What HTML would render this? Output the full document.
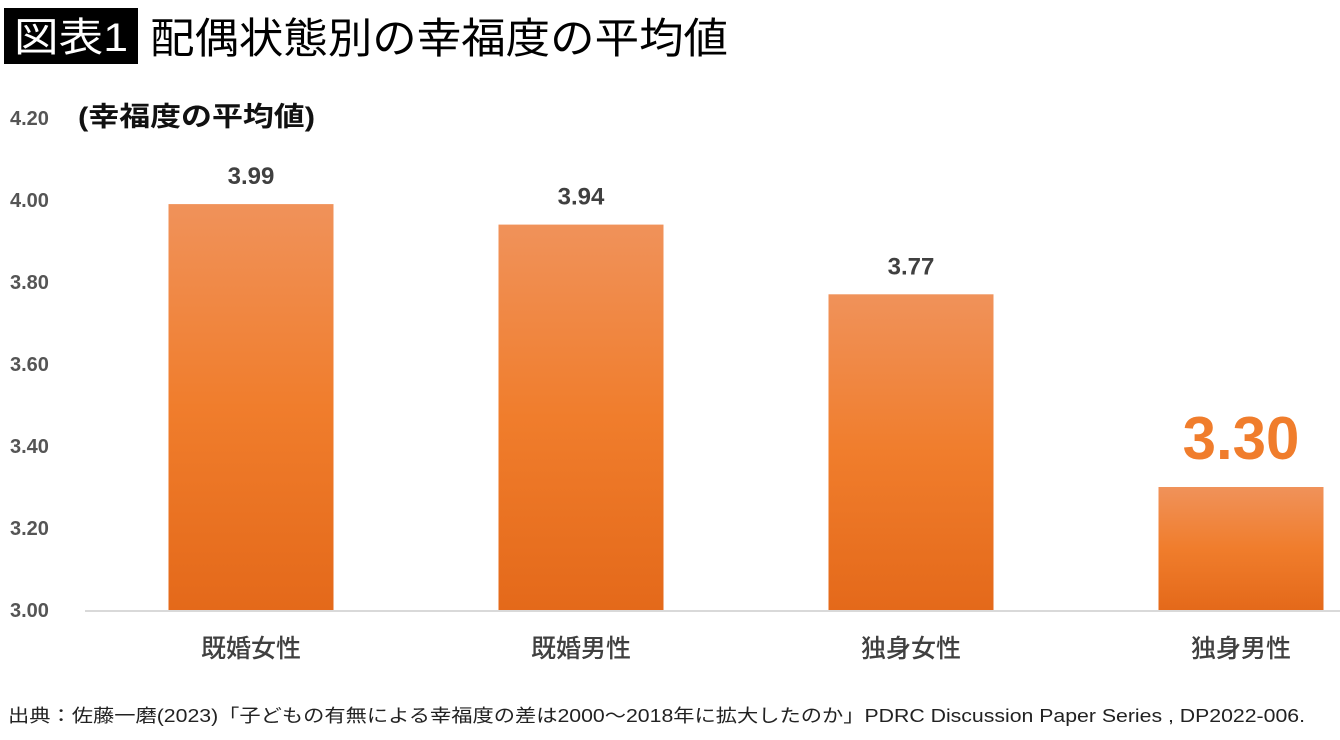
<!DOCTYPE html>
<html><head><meta charset="utf-8"><style>
body{margin:0;width:1340px;height:735px;background:#fff;overflow:hidden;font-family:"Liberation Sans","Noto Sans CJK JP",sans-serif}
svg text{font-family:"Liberation Sans","Noto Sans CJK JP",sans-serif}
</style></head><body>
<svg id="chart" width="1340" height="735" xmlns="http://www.w3.org/2000/svg">
<defs><linearGradient id="g" x1="0" y1="0" x2="0" y2="1">
<stop offset="0" stop-color="#F0925A"/><stop offset="0.5" stop-color="#F07D2C"/><stop offset="1" stop-color="#E4691A"/></linearGradient></defs>
<rect x="4" y="8" width="134" height="56" fill="#000"/>
<text x="14" y="51" font-size="40" fill="#fff" textLength="114" lengthAdjust="spacingAndGlyphs">図表1</text>
<text x="150" y="53" font-size="42" fill="#000" textLength="578" lengthAdjust="spacingAndGlyphs">配偶状態別の幸福度の平均値</text>
<text x="78" y="126" font-size="27" font-weight="bold" fill="#111" textLength="237" lengthAdjust="spacingAndGlyphs">(幸福度の平均値)</text>
<g id="axis"></g><g id="bars"></g>
<text x="8" y="722" font-size="18" fill="#222" textLength="1297" lengthAdjust="spacingAndGlyphs">出典：佐藤一磨(2023)「子どもの有無による幸福度の差は2000〜2018年に拡大したのか」PDRC Discussion Paper Series , DP2022-006.</text>
</svg>
<script>
const categories=["既婚女性","既婚男性","独身女性","独身男性"];
const values=[3.99,3.94,3.77,3.30];
const valueLabels=["3.99","3.94","3.77","3.30"];
const ticks=[3.00,3.20,3.40,3.60,3.80,4.00,4.20];
const NS="http://www.w3.org/2000/svg";
const y=v=>610-(v-3)*410;
const xc=i=>251+i*330;
const bw=165;
function mk(t,a,txt){const e=document.createElementNS(NS,t);for(const k in a)e.setAttribute(k,a[k]);if(txt!=null)e.textContent=txt;return e;}
const ax=document.getElementById('axis'),bg=document.getElementById('bars');
ticks.forEach(t=>{const e=mk('text',{x:10,y:y(t)+7,'font-size':20,'font-weight':'bold',fill:'#555'},t.toFixed(2));


ax.appendChild(e);});
const base=mk('line',{x1:85,x2:1340,y1:611,y2:611,stroke:'#d9d9d9','stroke-width':2});


ax.appendChild(base);
values.forEach((v,i)=>{
const r=mk('rect',{x:xc(i)-bw/2,y:y(v),width:bw,height:610-y(v),fill:'url(#g)'});


bg.appendChild(r);
const last=i===values.length-1;
const l=mk('text',{x:xc(i),y:last?y(v)-28:y(v)-20,'text-anchor':'middle','font-size':last?60:24,'font-weight':'bold',fill:last?'#F07D2C':'#404040'},valueLabels[i]);


bg.appendChild(l);
const c=mk('text',{x:xc(i),y:657,'text-anchor':'middle','font-size':25,'font-weight':'500',fill:'#404040'},categories[i]);


bg.appendChild(c);
});
</script>
</body></html>
